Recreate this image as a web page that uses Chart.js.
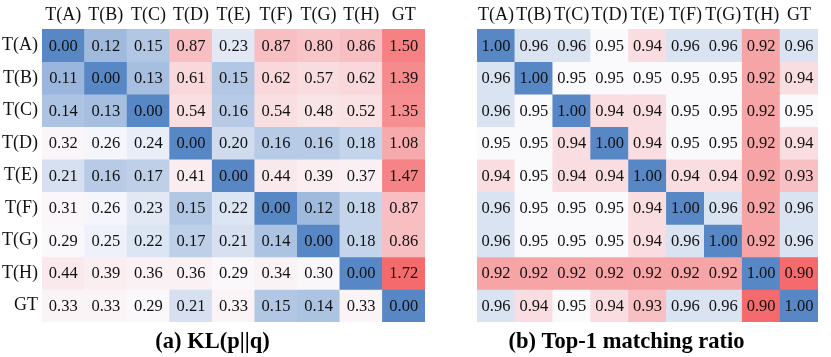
<!DOCTYPE html>
<html>
<head>
<meta charset="utf-8">
<script src="https://cdn.jsdelivr.net/npm/chart.js@4"></script>
<style>
  html, body { margin: 0; padding: 0; background: #fff; }
  body { width: 831px; height: 357px; position: relative; overflow: hidden; }
  #wl { position: absolute; left: 0; top: 0; width: 430px; height: 357px; }
  #wr { position: absolute; left: 430px; top: 0; width: 401px; height: 357px; }
</style>
</head>
<body>
<div id="wl"><canvas id="cl"></canvas></div>
<div id="wr"><canvas id="cr"></canvas></div>
<script>
// ---- data ----
const columns = ["T(A)", "T(B)", "T(C)", "T(D)", "T(E)", "T(F)", "T(G)", "T(H)", "GT"];
const rows    = ["T(A)", "T(B)", "T(C)", "T(D)", "T(E)", "T(F)", "T(G)", "T(H)", "GT"];

const klValues = [
  [0.00, 0.12, 0.15, 0.87, 0.23, 0.87, 0.80, 0.86, 1.50],
  [0.11, 0.00, 0.13, 0.61, 0.15, 0.62, 0.57, 0.62, 1.39],
  [0.14, 0.13, 0.00, 0.54, 0.16, 0.54, 0.48, 0.52, 1.35],
  [0.32, 0.26, 0.24, 0.00, 0.20, 0.16, 0.16, 0.18, 1.08],
  [0.21, 0.16, 0.17, 0.41, 0.00, 0.44, 0.39, 0.37, 1.47],
  [0.31, 0.26, 0.23, 0.15, 0.22, 0.00, 0.12, 0.18, 0.87],
  [0.29, 0.25, 0.22, 0.17, 0.21, 0.14, 0.00, 0.18, 0.86],
  [0.44, 0.39, 0.36, 0.36, 0.29, 0.34, 0.30, 0.00, 1.72],
  [0.33, 0.33, 0.29, 0.21, 0.33, 0.15, 0.14, 0.33, 0.00]
];

const top1Values = [
  [1.00, 0.96, 0.96, 0.95, 0.94, 0.96, 0.96, 0.92, 0.96],
  [0.96, 1.00, 0.95, 0.95, 0.95, 0.95, 0.95, 0.92, 0.94],
  [0.96, 0.95, 1.00, 0.94, 0.94, 0.95, 0.95, 0.92, 0.95],
  [0.95, 0.95, 0.94, 1.00, 0.94, 0.95, 0.95, 0.92, 0.94],
  [0.94, 0.95, 0.94, 0.94, 1.00, 0.94, 0.94, 0.92, 0.93],
  [0.96, 0.95, 0.95, 0.95, 0.94, 1.00, 0.96, 0.92, 0.96],
  [0.96, 0.95, 0.95, 0.95, 0.94, 0.96, 1.00, 0.92, 0.96],
  [0.92, 0.92, 0.92, 0.92, 0.92, 0.92, 0.92, 1.00, 0.90],
  [0.96, 0.94, 0.95, 0.94, 0.93, 0.96, 0.96, 0.90, 1.00]
];

const titles = ["(a) KL(p||q)", "(b) Top-1 matching ratio"];

// ---- style ----
const FONT = "'Liberation Serif', 'Times New Roman', serif";
const BLUE = [88, 135, 197];
const RED = [245, 106, 108];
const MID = [250, 250, 253];

function cmap(v, blueVal, centerVal, redVal) {
  let t, end;
  const tb = (v - centerVal) / (blueVal - centerVal);
  if (tb >= 0) { t = Math.min(1, tb); end = BLUE; }
  else { t = Math.min(1, (v - centerVal) / (redVal - centerVal)); end = RED; }
  const c = MID.map((m, k) => Math.round(m + (end[k] - m) * t));
  return `rgb(${c[0]},${c[1]},${c[2]})`;
}

const cellText = {
  id: 'cellText',
  afterDatasetsDraw(chart, args, opts) {
    const { ctx, scales: { x, y } } = chart;
    ctx.save();
    ctx.font = `16.5px ${FONT}`;
    ctx.fillStyle = '#111';
    ctx.textAlign = 'center';
    ctx.textBaseline = 'middle';
    opts.values.forEach((row, i) => {
      row.forEach((v, j) => {
        ctx.fillText(v.toFixed(2), x.getPixelForValue(j), y.getPixelForValue(i + 0.5) + 1);
      });
    });
    ctx.restore();
  }
};

function makeChart(canvasId, values, title, colorFn, showRows, padding) {
  const datasets = rows.map((r, i) => ({
    label: r,
    data: columns.map(() => [i, i + 1]),
    backgroundColor: values[i].map(colorFn),
    borderWidth: 0,
    grouped: false,
    barPercentage: 1,
    categoryPercentage: 1
  }));
  return new Chart(document.getElementById(canvasId), {
    type: 'bar',
    data: { labels: columns, datasets },
    plugins: [cellText],
    options: {
      responsive: true,
      maintainAspectRatio: false,
      animation: false,
      layout: { padding },
      scales: {
        x: {
          position: 'top',
          grid: { display: false, drawTicks: false },
          border: { display: false },
          ticks: { color: '#111', font: { family: FONT, size: 18 }, padding: 3, maxRotation: 0, autoSkip: false },
          afterFit: (s) => { s.height = 29; }
        },
        y: {
          type: 'linear',
          min: 0, max: 9, reverse: true,
          display: showRows,
          grid: { display: false, drawTicks: false },
          border: { display: false },
          afterBuildTicks: (axis) => { axis.ticks = rows.map((r, i) => ({ value: i + 0.5 })); },
          ticks: {
            color: '#111', font: { family: FONT, size: 18 }, padding: 4,
            callback: (value, index) => rows[index]
          },
          afterFit: (s) => { s.width = 42; }
        }
      },
      plugins: {
        legend: { display: false },
        tooltip: { enabled: false },
        cellText: { values },
        title: {
          display: true, text: title, position: 'bottom', color: '#000',
          font: { family: FONT, size: 22.5, weight: 'bold', lineHeight: 1.2 },
          padding: { top: 7, bottom: 1 }
        }
      }
    }
  });
}

makeChart('cl', klValues, titles[0], (v) => cmap(v, 0.0, 0.27, 1.72), true, { left: 0, right: 5, top: 0, bottom: 0 });
makeChart('cr', top1Values, titles[1], (v) => cmap(v, 1.00, 0.95, 0.90), false, { left: 5, right: 13, top: 0, bottom: 0 });
</script>
</body>
</html>
